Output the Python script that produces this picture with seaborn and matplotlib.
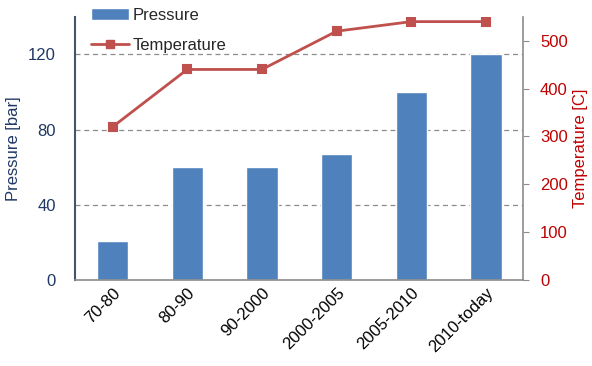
import numpy as np
import matplotlib.pyplot as plt
import seaborn as sns
from matplotlib.patches import Patch
from matplotlib.lines import Line2D

# data
periods = ["70-80", "80-90", "90-2000", "2000-2005", "2005-2010", "2010-today"]
pressure = [21, 60, 60, 67, 100, 120]          # bar
temperature = [320, 440, 440, 520, 540, 540]   # C

bar_color = "#4F81BD"
line_color = "#C0504D"
left_color = "#1F3864"
right_color = "#C00000"

sns.set_style("white")
plt.rcParams["font.family"] = ["Liberation Sans", "DejaVu Sans"]

fig = plt.figure(figsize=(5.92, 3.66), dpi=100)
ax = fig.add_axes([0.127, 0.235, 0.757, 0.719])

sns.barplot(x=periods, y=pressure, color=bar_color, width=0.42,
            saturation=1, ax=ax, zorder=2)
ax.set_ylim(0, 140)
ax.set_yticks([0, 40, 80, 120])
ax.yaxis.grid(True, linestyle=(0, (4, 3)), color="#8C8C8C", linewidth=0.9, zorder=0)
ax.set_axisbelow(True)
ax.set_ylabel("Pressure [bar]", color=left_color, fontsize=12)
ax.yaxis.set_label_coords(-0.12, 0.5)
ax.set_xlabel("")
ax.tick_params(axis="y", colors=left_color, labelsize=12, length=0, pad=14)
ax.tick_params(axis="x", labelsize=12, length=0, pad=4, labelcolor="black")
for lab in ax.get_xticklabels():
    lab.set_rotation(45)
    lab.set_ha("right")
    lab.set_rotation_mode("anchor")

ax2 = ax.twinx()
sns.pointplot(x=periods, y=temperature, ax=ax2, color=line_color,
              marker="s", markersize=6, linewidth=2)
ax2.set_ylim(0, 550)
ax2.set_yticks([0, 100, 200, 300, 400, 500])
ax2.set_ylabel("Temperature [C]", color=right_color, fontsize=12)
ax2.yaxis.set_label_coords(1.11, 0.5)
ax2.tick_params(axis="y", colors=right_color, labelsize=12, length=4,
                width=0.8, pad=8)
ax2.tick_params(axis="y", color="#8C8C8C")

for a in (ax, ax2):
    a.spines["top"].set_visible(False)
ax.spines["right"].set_visible(False)
ax2.spines["left"].set_visible(False)
ax2.spines["bottom"].set_visible(False)
ax.spines["left"].set_color("#44546A")
ax.spines["left"].set_linewidth(1.5)
ax.spines["bottom"].set_color("#8C8C8C")
ax.spines["bottom"].set_linewidth(1.2)
ax2.spines["right"].set_color("#8C8C8C")
ax2.spines["right"].set_linewidth(1.2)
ax.set_xlim(-0.5, len(periods) - 0.5)

handles = [Patch(facecolor=bar_color, label="Pressure"),
           Line2D([], [], color=line_color, marker="s", markersize=6,
                  linewidth=2, label="Temperature")]
fig.legend(handles=handles, loc="upper left", bbox_to_anchor=(0.128, 1.02),
           frameon=False, fontsize=12, handlelength=2.3, handletextpad=0.2,
           labelspacing=0.9)

fig.savefig("out.png", dpi=100)
